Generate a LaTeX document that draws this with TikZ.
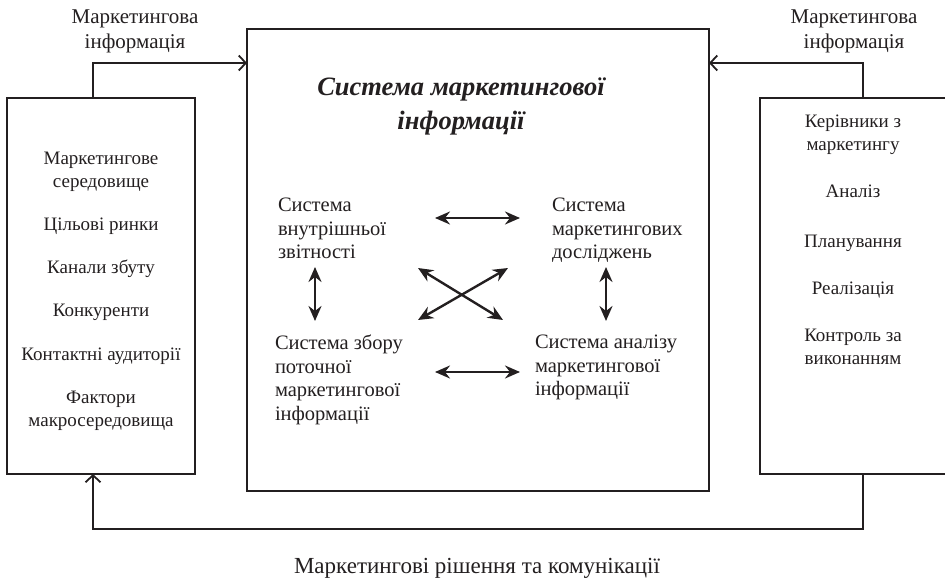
\documentclass[tikz,border=0pt]{standalone}
\usepackage{fontspec}
\setmainfont{Liberation Serif}
\usetikzlibrary{arrows.meta}
\definecolor{ink}{HTML}{231F20}
\begin{document}
\begin{tikzpicture}[x=1pt,y=-1pt,
  every node/.style={text=ink,inner sep=0pt,outer sep=0pt},
  box/.style={draw=ink,line width=1.2pt,rectangle},
  body/.style={font=\fontsize{19}{23}\selectfont,align=center},
  label/.style={font=\fontsize{21}{25}\selectfont,align=center},
  inner/.style={font=\fontsize{20.5}{23.5}\selectfont,align=left,anchor=north west},
  flow/.style={draw=ink,line width=1.5pt,-{Straight Barb[length=7pt,width=15pt,line width=1.8pt]}},
  link/.style={draw=ink,line width=2.4pt,{Stealth[length=15pt,width=13pt,inset=5pt]}-{Stealth[length=15pt,width=13pt,inset=5pt]}}
]
\useasboundingbox (0,0) rectangle (945,580);

% three main blocks
\node[box,minimum width=188pt,minimum height=376pt] (lbox) at (101,286) {};
\node[box,minimum width=462pt,minimum height=462pt] (cbox) at (478,260) {};
\node[box,minimum width=186pt,minimum height=376pt] (rbox) at (853,286) {};

% outer labels
\node[label] (linfo) at (135,31) {Маркетингова\\інформація};
\node[label] (rinfo) at (854,31) {Маркетингова\\інформація};
\node[font=\fontsize{23}{27}\selectfont] (decis) at (477,568) {Маркетингові рішення та комунікації};

% environment list
\node[body] (env)  at (101,172) {Маркетингове\\середовище};
\node[body] (tgt)  at (101,226) {Цільові ринки};
\node[body] (chan) at (101,269) {Канали збуту};
\node[body] (comp) at (101,312) {Конкуренти};
\node[body] (aud)  at (101,356) {Контактні аудиторії};
\node[body] (macro) at (101,411) {Фактори\\макросередовища};

% management list
\node[body] (mgr)  at (853,135) {Керівники з\\маркетингу};
\node[body] (anl)  at (853,191) {Аналіз};
\node[body] (plan) at (853,243) {Планування};
\node[body] (impl) at (853,290) {Реалізація};
\node[body] (ctrl) at (853,347) {Контроль за\\виконанням};

% central title
\node[font=\fontsize{26.5}{34}\selectfont\bfseries\itshape,align=center] (title) at (461,106)
  {Система маркетингової\\інформації};

% four subsystems
\node[inner] (s1) at (278,198) {Система\\внутрішньої\\звітності};
\node[inner] (s2) at (552,198) {Система\\маркетингових\\досліджень};
\node[inner] (s3) at (275,335) {Система збору\\поточної\\маркетингової\\інформації};
\node[inner] (s4) at (535,335) {Система аналізу\\маркетингової\\інформації};

% links between subsystems
\coordinate (h1a) at (435,218); \coordinate (h1b) at (520,218);
\coordinate (h2a) at (435,372); \coordinate (h2b) at (520,372);
\coordinate (v1a) at (315,267); \coordinate (v1b) at (315,321);
\coordinate (v2a) at (606,267); \coordinate (v2b) at (606,321);
\coordinate (d1a) at (418,268); \coordinate (d1b) at (503,320);
\coordinate (d2a) at (508,268); \coordinate (d2b) at (418,320);
\draw[link] (h1a) -- (h1b);
\draw[link] (h2a) -- (h2b);
\draw[link] (v1a) -- (v1b);
\draw[link] (v2a) -- (v2b);
\draw[link] (d1a) -- (d1b);
\draw[link] (d2a) -- (d2b);

% information flows into the central system
\coordinate (lout) at (93,98);  \coordinate (lbend) at (93,63);
\coordinate (rout) at (863,98); \coordinate (rbend) at (863,63);
\draw[flow] (lout) -- (lbend) -- (lbend -| cbox.west);
\draw[flow] (rout) -- (rbend) -- (rbend -| cbox.east);

% decisions fed back to the environment
\coordinate (rdown) at (863,474); \coordinate (fb) at (93,529);
\coordinate (lin) at (93,474);
\draw[flow] (rdown) |- (fb) -- (lin);
\end{tikzpicture}
\end{document}
